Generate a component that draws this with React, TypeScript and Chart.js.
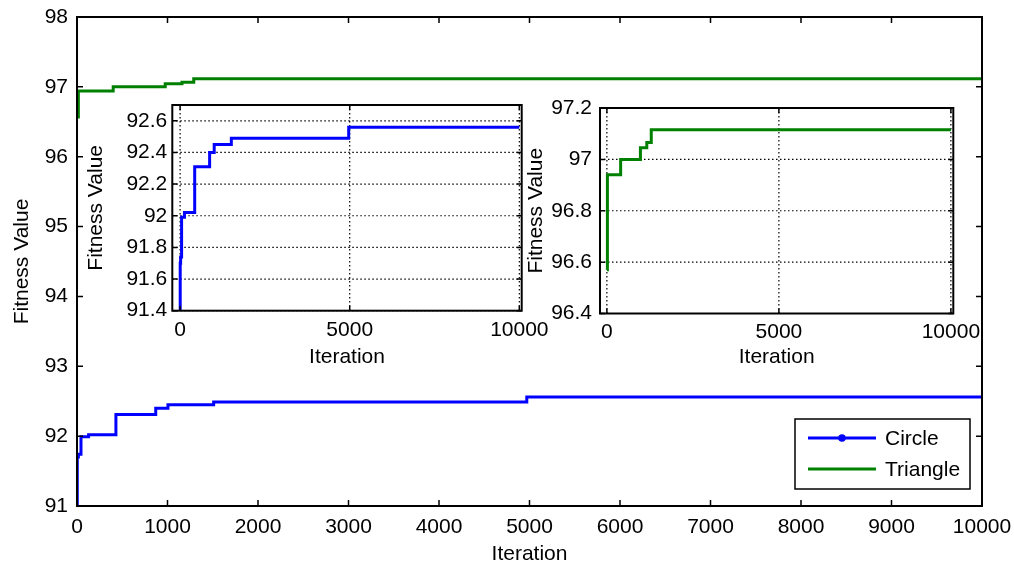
import React, { useEffect, useRef } from "react";
import { Chart, registerables } from "chart.js";

Chart.register(...registerables);

// ---- data ----
const circleIter = [0, 3, 15, 44, 128, 430, 870, 1005, 1510, 4970, 10000];
const circleFit = [91.0, 91.7, 91.74, 91.99, 92.02, 92.31, 92.4, 92.45, 92.49, 92.56, 92.56];
const triIter = [0, 15, 400, 975, 1160, 1290, 10000];
const triFit = [96.57, 96.94, 97.0, 97.045, 97.066, 97.115, 97.115];

const mainXTicks = [0, 1000, 2000, 3000, 4000, 5000, 6000, 7000, 8000, 9000, 10000];
const mainYTicks = [91, 92, 93, 94, 95, 96, 97, 98];
const insetXTicks = [0, 5000, 10000];
const inset1YTicks = [91.4, 91.6, 91.8, 92, 92.2, 92.4, 92.6];
const inset2YTicks = [96.4, 96.6, 96.8, 97, 97.2];

const FONT = "'Liberation Sans', Arial, Helvetica, sans-serif";
const FS = 21;
const BLUE = "#0000ff";
const GREEN = "#008000";

type Frame = {
  xTicks: number[];
  yTicks: number[];
  grid: boolean;
  tickLen: number;
  legend: boolean;
};

function framePlugin(o: Frame) {
  return {
    id: "matlabFrame",
    beforeDatasetsDraw(chart: any) {
      if (!o.grid) return;
      const { ctx, chartArea: a } = chart;
      const x = chart.scales.x;
      const y = chart.scales.y;
      ctx.save();
      ctx.strokeStyle = "#000";
      ctx.lineWidth = 1.2;
      ctx.setLineDash([1.5, 2.5]);
      ctx.beginPath();
      o.xTicks.forEach((v) => {
        const px = x.getPixelForValue(v);
        ctx.moveTo(px, a.top);
        ctx.lineTo(px, a.bottom);
      });
      o.yTicks.forEach((v) => {
        const py = y.getPixelForValue(v);
        ctx.moveTo(a.left, py);
        ctx.lineTo(a.right, py);
      });
      ctx.stroke();
      ctx.restore();
    },
    afterDatasetsDraw(chart: any) {
      const { ctx, chartArea: a } = chart;
      const x = chart.scales.x;
      const y = chart.scales.y;
      const t = o.tickLen;
      ctx.save();
      ctx.strokeStyle = "#000";
      ctx.lineWidth = 1.5;
      ctx.beginPath();
      o.xTicks.forEach((v) => {
        const px = x.getPixelForValue(v);
        ctx.moveTo(px, a.bottom);
        ctx.lineTo(px, a.bottom - t);
        ctx.moveTo(px, a.top);
        ctx.lineTo(px, a.top + t);
      });
      o.yTicks.forEach((v) => {
        const py = y.getPixelForValue(v);
        ctx.moveTo(a.left, py);
        ctx.lineTo(a.left + t, py);
        ctx.moveTo(a.right, py);
        ctx.lineTo(a.right - t, py);
      });
      ctx.stroke();
      ctx.lineWidth = 2;
      ctx.strokeRect(a.left, a.top, a.right - a.left, a.bottom - a.top);
      ctx.restore();
    },
    afterDraw(chart: any) {
      if (!o.legend) return;
      const { ctx, chartArea: a } = chart;
      const w = 175;
      const h = 70;
      const r = a.right - 12;
      const b = a.bottom - 17;
      const l = r - w;
      const tp = b - h;
      ctx.save();
      ctx.fillStyle = "#fff";
      ctx.fillRect(l, tp, w, h);
      ctx.strokeStyle = "#000";
      ctx.lineWidth = 1.5;
      ctx.strokeRect(l, tp, w, h);
      ctx.font = `${FS}px ${FONT}`;
      ctx.textBaseline = "middle";
      ctx.textAlign = "left";
      chart.data.datasets.forEach((ds: any, i: number) => {
        const yy = tp + 19 + i * 31;
        ctx.strokeStyle = ds.borderColor;
        ctx.lineWidth = 3;
        ctx.beginPath();
        ctx.moveTo(l + 13, yy);
        ctx.lineTo(l + 81, yy);
        ctx.stroke();
        if (i === 0) {
          ctx.fillStyle = ds.borderColor;
          ctx.beginPath();
          ctx.arc(l + 47, yy, 3.8, 0, Math.PI * 2);
          ctx.fill();
        }
        ctx.fillStyle = "#000";
        ctx.fillText(ds.label, l + 90, yy + 1);
      });
      ctx.restore();
    },
  };
}

type Cfg = {
  datasets: any[];
  xMin: number;
  xMax: number;
  yMin: number;
  yMax: number;
  xTicks: number[];
  yTicks: number[];
  pad: { left: number; right: number; top: number; bottom: number };
  yWidth: number;
  xHeight: number;
  xTickPad: number;
  yTickPad: number;
  xTitlePad: number;
  yTitlePad: number;
  grid: boolean;
  tickLen: number;
  legend: boolean;
};

const fmt = (v: any) => String(Number(Number(v).toFixed(1)));

const zeroPad = (s: any) => {
  s.paddingTop = 0;
  s.paddingBottom = 0;
  s.paddingLeft = 0;
  s.paddingRight = 0;
};

function makeConfig(c: Cfg): any {
  const font = { family: FONT, size: FS };
  return {
    type: "line",
    data: { datasets: c.datasets },
    options: {
      animation: false,
      responsive: false,
      devicePixelRatio: 1,
      layout: { padding: c.pad },
      plugins: { legend: { display: false }, tooltip: { enabled: false } },
      scales: {
        x: {
          type: "linear",
          min: c.xMin,
          max: c.xMax,
          afterBuildTicks: (s: any) => {
            s.ticks = c.xTicks.map((v) => ({ value: v }));
          },
          afterFit: (s: any) => {
            s.height = c.xHeight;
            zeroPad(s);
          },
          grid: { display: false, drawTicks: false, tickLength: 0 },
          border: { display: false },
          ticks: {
            padding: c.xTickPad,
            color: "#000",
            font,
            maxRotation: 0,
            minRotation: 0,
            autoSkip: false,
            callback: fmt,
          },
          title: {
            display: true,
            text: "Iteration",
            color: "#000",
            font,
            padding: { top: 0, bottom: c.xTitlePad },
          },
        },
        y: {
          type: "linear",
          min: c.yMin,
          max: c.yMax,
          afterBuildTicks: (s: any) => {
            s.ticks = c.yTicks.map((v) => ({ value: v }));
          },
          afterFit: (s: any) => {
            s.width = c.yWidth;
            zeroPad(s);
          },
          grid: { display: false, drawTicks: false, tickLength: 0 },
          border: { display: false },
          ticks: {
            padding: c.yTickPad,
            color: "#000",
            font,
            autoSkip: false,
            callback: fmt,
          },
          title: {
            display: true,
            text: "Fitness Value",
            color: "#000",
            font,
            padding: { top: c.yTitlePad, bottom: 0 },
          },
        },
      },
    },
    plugins: [
      framePlugin({
        xTicks: c.xTicks,
        yTicks: c.yTicks,
        grid: c.grid,
        tickLen: c.tickLen,
        legend: c.legend,
      }),
    ],
  };
}

const circleDs = () => ({
  label: "Circle",
  data: circleIter.map((x, i) => ({ x, y: circleFit[i] })),
  borderColor: BLUE,
  backgroundColor: BLUE,
  borderWidth: 3,
  pointRadius: 0,
  stepped: true,
  fill: false,
});
const triDs = () => ({
  label: "Triangle",
  data: triIter.map((x, i) => ({ x, y: triFit[i] })),
  borderColor: GREEN,
  backgroundColor: GREEN,
  borderWidth: 3,
  pointRadius: 0,
  stepped: true,
  fill: false,
});

export default function App() {
  const mainRef = useRef<HTMLCanvasElement>(null);
  const in1Ref = useRef<HTMLCanvasElement>(null);
  const in2Ref = useRef<HTMLCanvasElement>(null);

  useEffect(() => {
    const charts: Chart[] = [];
    charts.push(
      new Chart(
        mainRef.current!,
        makeConfig({
          datasets: [circleDs(), triDs()],
          xMin: 0,
          xMax: 10000,
          yMin: 91,
          yMax: 98,
          xTicks: mainXTicks,
          yTicks: mainYTicks,
          pad: { left: 0, right: 32, top: 17, bottom: 0 },
          yWidth: 77,
          xHeight: 61,
          xTickPad: 9,
          yTickPad: 9,
          xTitlePad: 0,
          yTitlePad: 10,
          grid: false,
          tickLen: 6,
          legend: true,
        })
      )
    );
    charts.push(
      new Chart(
        in1Ref.current!,
        makeConfig({
          datasets: [circleDs()],
          xMin: -230,
          xMax: 10070,
          yMin: 91.4,
          yMax: 92.7,
          xTicks: insetXTicks,
          yTicks: inset1YTicks,
          pad: { left: 84.1, right: 492.3, top: 105, bottom: 196.7 },
          yWidth: 88.2,
          xHeight: 59.6,
          xTickPad: 7,
          yTickPad: 5,
          xTitlePad: 0,
          yTitlePad: 0,
          grid: true,
          tickLen: 5,
          legend: false,
        })
      )
    );
    charts.push(
      new Chart(
        in2Ref.current!,
        makeConfig({
          datasets: [triDs()],
          xMin: -200,
          xMax: 10070,
          yMin: 96.4,
          yMax: 97.2,
          xTicks: insetXTicks,
          yTicks: inset2YTicks,
          pad: { left: 524.1, right: 60.7, top: 108, bottom: 196.7 },
          yWidth: 75.9,
          xHeight: 56.8,
          xTickPad: 6,
          yTickPad: 8,
          xTitlePad: 0,
          yTitlePad: 0,
          grid: true,
          tickLen: 5,
          legend: false,
        })
      )
    );
    return () => charts.forEach((c) => c.destroy());
  }, []);

  const cs: React.CSSProperties = {
    position: "absolute",
    left: 0,
    top: 0,
    width: 1014,
    height: 567,
  };

  return (
    <div
      style={{
        position: "absolute",
        left: 0,
        top: 0,
        width: 1014,
        height: 567,
        background: "#fff",
      }}
    >
      <canvas ref={mainRef} width={1014} height={567} style={cs} />
      <canvas ref={in1Ref} width={1014} height={567} style={cs} />
      <canvas ref={in2Ref} width={1014} height={567} style={cs} />
    </div>
  );
}
